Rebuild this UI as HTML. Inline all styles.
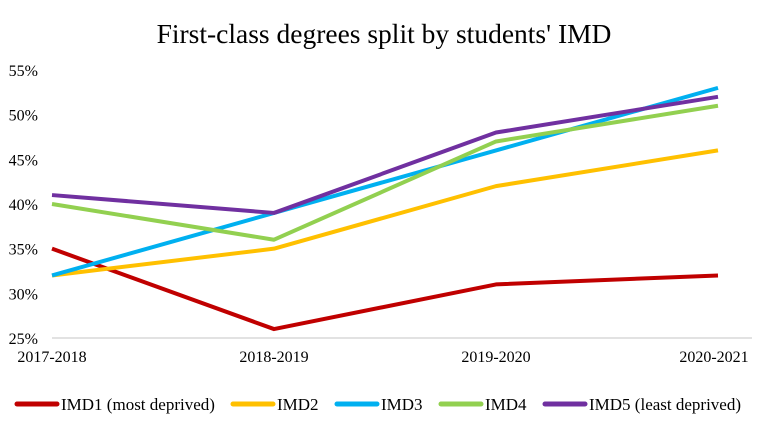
<!DOCTYPE html>
<html><head><meta charset="utf-8"><style>
body{margin:0;background:#fff;}
svg text{font-family:"Liberation Serif",serif;fill:#000;}
</style></head><body>
<svg width="768" height="434">
<text x="384" y="43" text-anchor="middle" font-size="27.5">First-class degrees split by students' IMD</text>
<g id="yaxis"></g><g id="xaxis"></g><g id="lines"></g><g id="legend"></g>
</svg>
<script>
const categories=["2017-2018","2018-2019","2019-2020","2020-2021"];
const imd1=[35,26,31,32];
const imd2=[32,35,42,46];
const imd3=[32,39,46,53];
const imd4=[40,36,47,51];
const imd5=[41,39,48,52];
const yTicks=[25,30,35,40,45,50,55];
const seriesNames=["IMD1 (most deprived)","IMD2","IMD3","IMD4","IMD5 (least deprived)"];
const ns="http://www.w3.org/2000/svg";
function y(v){return 338-(v-25)*(268/30);}
function x(i){return 52+i*222;}
function mk(t,a,p){const e=document.createElementNS(ns,t);for(const k in a)e.setAttribute(k,a[k]);p.appendChild(e);return e;}
const ya=document.getElementById('yaxis');
yTicks.forEach(v=>{const t=mk('text',{x:38,y:y(v)+6,'text-anchor':'end','font-size':16},ya);t.textContent=v+'%';

});
const base=mk('line',{x1:52,x2:752,y1:338,y2:338,stroke:'#d9d9d9','stroke-width':1.5},ya);


const xa=document.getElementById('xaxis');
categories.forEach((c,i)=>{const t=mk('text',{x:Math.min(x(i),714),y:362,'text-anchor':'middle','font-size':16},xa);t.textContent=c;

});
const series=[imd1,imd2,imd3,imd4,imd5];
const colors=["#c00000","#ffc000","#00b0f0","#92d050","#7030a0"];
const lg=document.getElementById('lines');
series.forEach((s,k)=>{const p=mk('polyline',{points:s.map((v,i)=>x(i)+','+y(v)).join(' '),fill:'none',stroke:colors[k],'stroke-width':4,'stroke-linejoin':'round'},lg);

});
const legendX=[17,233,337,441,545];
const leg=document.getElementById('legend');
seriesNames.forEach((n,k)=>{const g=mk('g',{},leg);


mk('line',{x1:legendX[k],x2:legendX[k]+40,y1:404,y2:404,stroke:colors[k],'stroke-width':5,'stroke-linecap':'round'},g);
const t=mk('text',{x:legendX[k]+44,y:410,'font-size':17},g);t.textContent=n;});
</script>
</body></html>
